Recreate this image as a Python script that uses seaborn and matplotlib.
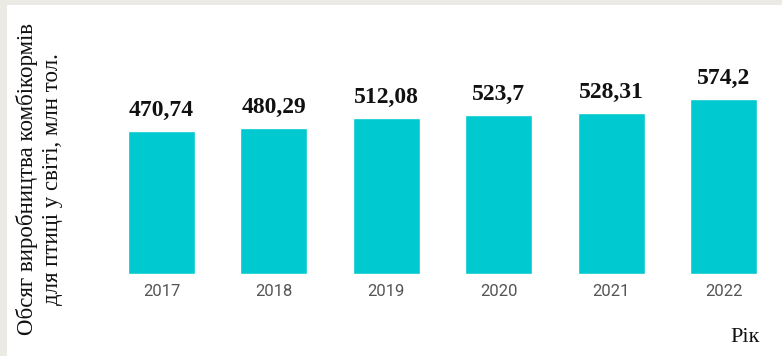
import matplotlib
matplotlib.use("Agg")
import matplotlib.pyplot as plt
import seaborn as sns
import pandas as pd
from matplotlib.patches import Rectangle

# World poultry compound feed production, million tonnes
years = ["2017", "2018", "2019", "2020", "2021", "2022"]
volumes = [470.74, 480.29, 512.08, 523.7, 528.31, 574.2]

y_title = "Обсяг виробництва комбікормів\nдля птиці у світі, млн тол."
x_title = "Рік"

bar_color = "#00c9cf"
frame_color = "#ebeae5"

sns.set_theme(style="white")
plt.rcParams["font.family"] = ["DejaVu Sans"]

W, H = 782, 356
fig = plt.figure(figsize=(W / 100, H / 100), dpi=100)
fig.patch.set_facecolor("white")

# thin grey frame along the top and left edges
fig.patches.append(Rectangle((0, 1 - 5 / H), 1, 5 / H, transform=fig.transFigure,
                             facecolor=frame_color, edgecolor="none", zorder=0))
fig.patches.append(Rectangle((0, 0), 7 / W, 1, transform=fig.transFigure,
                             facecolor=frame_color, edgecolor="none", zorder=0))

# axes placed in pixel units: left, bottom, width, height
ax_left, ax_right, ax_bottom, ax_top = 105.3, 779.7, 274, 20
ax = fig.add_axes([ax_left / W, (H - ax_bottom) / H,
                   (ax_right - ax_left) / W, (ax_bottom - ax_top) / H])
ax.set_facecolor("none")

df = pd.DataFrame({"year": years, "volume": volumes})
sns.barplot(data=df, x="year", y="volume", color=bar_color, saturation=1,
            width=0.596, ax=ax)

ax.set_xlim(-0.5, len(years) - 0.5)
ax.set_ylim(0, (ax_bottom - ax_top) / 0.3045)

labels = [f"{v:g}".replace(".", ",") for v in volumes]
ax.bar_label(ax.containers[0], labels=labels, padding=7,
             fontsize=17, fontweight="bold", family="Liberation Serif",
             color="#111111")

ax.set_xlabel("")
ax.set_ylabel("")
ax.set_yticks([])
ax.tick_params(axis="x", length=0, pad=7, labelsize=12, labelcolor="#555555")
for t in ax.get_xticklabels():
    t.set_family("Roboto")
for s in ax.spines.values():
    s.set_visible(False)

fig.text(40 / W, 1 - 179 / H, y_title, rotation=90, ha="center", va="center",
         family="Liberation Serif", fontsize=16.5, color="#111111",
         linespacing=1.25, multialignment="center")
fig.text(745 / W, 1 - 337 / H, x_title, ha="center", va="center",
         family="Liberation Serif", fontsize=16, color="#111111")

fig.savefig("out.png", dpi=100)
